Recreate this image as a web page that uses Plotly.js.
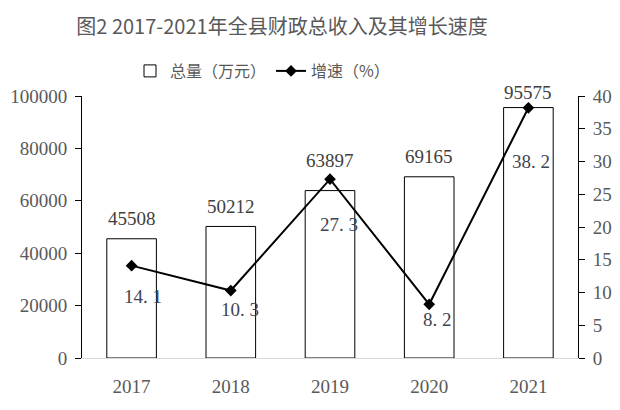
<!DOCTYPE html>
<html>
<head>
<meta charset="utf-8">
<script src="https://cdn.plot.ly/plotly-3.0.1.min.js"></script>
<style>
  html, body { margin: 0; padding: 0; background: #fff; }
  #chart { width: 620px; height: 410px; }
</style>
</head>
<body>
<div id="chart"></div>
<script>
var years = ['2017', '2018', '2019', '2020', '2021'];
var zongliang = [45508, 50212, 63897, 69165, 95575];   // 总量（万元）
var zengsu = [14.1, 10.3, 27.3, 8.2, 38.2];             // 增速（%）
var zengsuLabels = ['14. 1', '10. 3', '27. 3', '8. 2', '38. 2'];

// label offsets in pixels (where the labels sit relative to their mark)
var barLabelShift = [20, 20, 30, 20, 15];
var lineLabelDx = [11, 9, 9, 8, 3];
var lineLabelDy = [-31, -19, -45, -15, -54];

var serif = '"Liberation Serif", "DejaVu Serif", serif';
var cjk = '"Noto Sans CJK SC", sans-serif';

var bars = {
  x: years,
  y: zongliang,
  type: 'bar',
  name: '总量（万元）',
  width: 0.5,
  marker: { color: '#ffffff', line: { color: '#000000', width: 1 } },
  hoverinfo: 'none'
};

var line = {
  x: years,
  y: zengsu,
  type: 'scatter',
  mode: 'lines+markers',
  name: '增速（%）',
  yaxis: 'y2',
  line: { color: '#000000', width: 2 },
  marker: { symbol: 'diamond', size: 9, color: '#000000' },
  cliponaxis: false,
  hoverinfo: 'none'
};

// labels as annotations, x given as category index
var annotations = [];
for (var i = 0; i < years.length; i++) {
  annotations.push({
    x: i, y: zongliang[i], xref: 'x', yref: 'y',
    text: String(zongliang[i]), showarrow: false,
    yanchor: 'middle', yshift: barLabelShift[i],
    font: { family: serif, size: 19, color: '#404040' }
  });
  annotations.push({
    x: i, y: zengsu[i], xref: 'x', yref: 'y2',
    text: zengsuLabels[i], showarrow: false,
    yanchor: 'middle', xshift: lineLabelDx[i], yshift: lineLabelDy[i],
    font: { family: serif, size: 19, color: '#3f4450' }
  });
}

var layout = {
  width: 620,
  height: 410,
  margin: { l: 82, r: 42, t: 96, b: 52 },
  paper_bgcolor: '#ffffff',
  plot_bgcolor: '#ffffff',
  showlegend: true,
  annotations: annotations,
  title: {
    text: '图2 2017-2021年全县财政总收入及其增长速度',
    font: { family: cjk, size: 20, color: '#595959' },
    x: 282 / 620, xref: 'container', xanchor: 'center',
    y: 1 - 27 / 410, yref: 'container', yanchor: 'middle'
  },
  legend: {
    orientation: 'h',
    x: 130 / 620, xref: 'container', xanchor: 'left',
    y: 1 - 71 / 410, yref: 'container', yanchor: 'middle',
    font: { family: cjk, size: 16, color: '#595959' },
    itemwidth: 30,
    bgcolor: 'rgba(0,0,0,0)'
  },
  xaxis: {
    type: 'category',
    range: [-0.5, years.length - 0.5],
    showline: true,
    linecolor: '#d9d9d9',
    linewidth: 1,
    ticks: '',
    ticklabelstandoff: 11,
    tickfont: { family: serif, size: 19, color: '#595959' },
    showgrid: false,
    zeroline: false
  },
  yaxis: {
    range: [0, 100000],
    dtick: 20000,
    tickformat: 'd',
    showline: true,
    linecolor: '#000000',
    linewidth: 1,
    ticks: 'outside',
    ticklen: 6,
    tickcolor: '#000000',
    ticklabelstandoff: 4,
    tickfont: { family: serif, size: 19, color: '#595959' },
    showgrid: false,
    zeroline: false
  },
  yaxis2: {
    overlaying: 'y',
    side: 'right',
    range: [0, 40],
    dtick: 5,
    showline: true,
    linecolor: '#000000',
    linewidth: 1,
    ticks: 'outside',
    ticklen: 6,
    tickcolor: '#000000',
    ticklabelstandoff: 4,
    tickfont: { family: serif, size: 19, color: '#595959' },
    showgrid: false,
    zeroline: false
  }
};

Plotly.newPlot('chart', [bars, line], layout, { displayModeBar: false, staticPlot: true });
</script>
</body>
</html>
